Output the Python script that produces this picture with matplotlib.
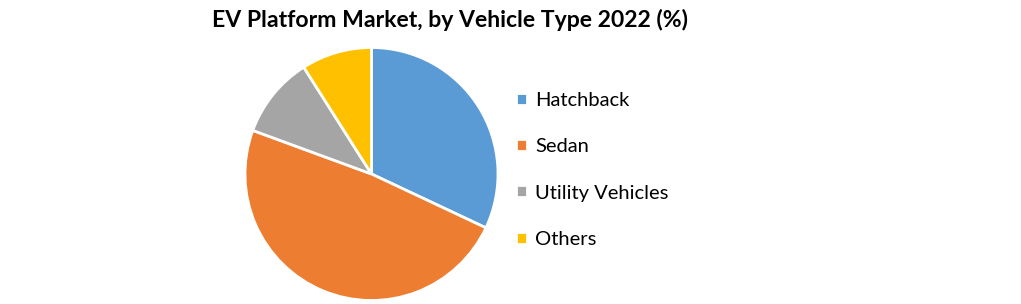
import matplotlib
matplotlib.use("Agg")
import matplotlib.pyplot as plt

# Vehicle type shares, 2022 (%)
labels = ["Hatchback", "Sedan", "Utility Vehicles", "Others"]
shares = [32.0, 48.6, 10.4, 9.0]
colors = ["#5B9BD5", "#ED7D31", "#A5A5A5", "#FFC000"]

plt.rcParams["font.family"] = ["Lato", "DejaVu Sans"]

W, H = 1021, 304
fig = plt.figure(figsize=(W / 100, H / 100), dpi=100)
fig.patch.set_facecolor("white")

# pie placed in pixel terms: centre (371.5, 174), radius 126.5
cx, cy, r = 371.5, 174, 126.5
ax = fig.add_axes([(cx - r) / W, (H - cy - r) / H, 2 * r / W, 2 * r / H])
wedges, _ = ax.pie(shares, colors=colors, startangle=90, counterclock=False,
                   radius=1.0, wedgeprops=dict(edgecolor="white", linewidth=2))
ax.set_xlim(-1, 1)
ax.set_ylim(-1, 1)
ax.set_aspect("equal")
ax.axis("off")

fig.text(450 / W, 1 - 20 / H, "EV Platform Market, by Vehicle Type 2022 (%)",
         ha="center", va="center", fontsize=16.6, fontweight="bold")

leg = fig.legend(wedges, labels, loc="upper left",
                 bbox_to_anchor=(498 / W, 1 - 74 / H), frameon=False,
                 fontsize=14.5, handlelength=0.55, handleheight=0.55,
                 handletextpad=0.4, labelspacing=1.45)

fig.savefig("out.png", dpi=100)
